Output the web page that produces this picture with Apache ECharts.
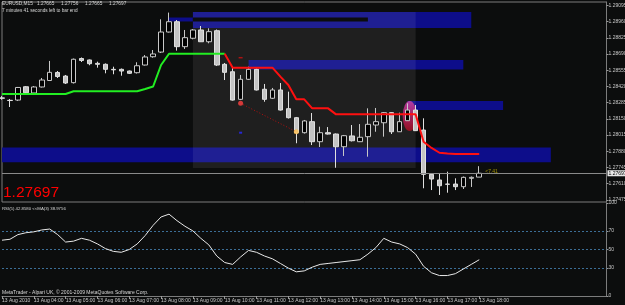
<!DOCTYPE html>
<html><head><meta charset="utf-8">
<script src="https://cdn.jsdelivr.net/npm/echarts@6/dist/echarts.min.js"></script>
<style>html,body{margin:0;padding:0;background:#0c0d0d;}#c{width:625px;height:305px;}</style>
</head><body><div id="c"></div>
<script>
// ---- data ----
const barTimes = ["03:00","03:15","03:30","03:45","04:00","04:15","04:30","04:45","05:00","05:15","05:30","05:45","06:00","06:15","06:30","06:45","07:00","07:15","07:30","07:45","08:00","08:15","08:30","08:45","09:00","09:15","09:30","09:45","10:00","10:15","10:30","10:45","11:00","11:15","11:30","11:45","12:00","12:15","12:30","12:45","13:00","13:15","13:30","13:45","14:00","14:15","14:30","14:45","15:00","15:15","15:30","15:45","16:00","16:15","16:30","16:45","17:00","17:15","17:30","17:45","18:00"];
const futureSlots = ["18:15","18:30","18:45","19:00","19:15","19:30","19:45","20:00","20:15","20:30","20:45","21:00","21:15","21:30","21:45","22:00"];
const tickLabels = ["13 Aug 2010","13 Aug 04:00","13 Aug 05:00","13 Aug 06:00","13 Aug 07:00","13 Aug 08:00","13 Aug 09:00","13 Aug 10:00","13 Aug 11:00","13 Aug 12:00","13 Aug 13:00","13 Aug 14:00","13 Aug 15:00","13 Aug 16:00","13 Aug 17:00","13 Aug 18:00"];
// [open, high, low, close]
const candles = [
[1.28325,1.28340,1.28310,1.28322],[1.28305,1.28316,1.28249,1.28303],[1.28307,1.28416,1.28299,1.28412],[1.28418,1.28424,1.28362,1.28368],
[1.28366,1.28424,1.28362,1.28416],[1.28416,1.28491,1.28412,1.28474],[1.28470,1.28633,1.28466,1.28538],[1.28537,1.28549,1.28491,1.28503],
[1.28507,1.28516,1.28441,1.28449],[1.28452,1.28653,1.28445,1.28647],[1.28653,1.28662,1.28624,1.28637],[1.28641,1.28645,1.28597,1.28610],
[1.28613,1.28627,1.28577,1.28605],[1.28605,1.28612,1.28530,1.28563],[1.28563,1.28585,1.28522,1.28559],[1.28563,1.28570,1.28510,1.28549],
[1.28549,1.28553,1.28524,1.28530],[1.28535,1.28622,1.28528,1.28593],[1.28599,1.28682,1.28595,1.28666],[1.28668,1.28724,1.28660,1.28691],
[1.28707,1.28980,1.28699,1.28874],[1.28874,1.29036,1.28870,1.28960],[1.28960,1.28974,1.28719,1.28752],[1.28752,1.28891,1.28733,1.28827],
[1.28822,1.28899,1.28813,1.28891],[1.28891,1.28924,1.28791,1.28793],[1.28793,1.28905,1.28780,1.28877],[1.28885,1.28895,1.28591,1.28599],
[1.28605,1.28616,1.28474,1.28538],[1.28543,1.28574,1.28303,1.28307],[1.28313,1.28516,1.28307,1.28480],[1.28480,1.28585,1.28474,1.28563],
[1.28563,1.28570,1.28387,1.28391],[1.28397,1.28441,1.28293,1.28313],[1.28322,1.28408,1.28316,1.28391],[1.28391,1.28449,1.28220,1.28224],
[1.28235,1.28377,1.28153,1.28160],[1.28160,1.28166,1.27947,1.28035],[1.28035,1.28141,1.28028,1.28133],[1.28127,1.28199,1.27932,1.27960],
[1.27960,1.28085,1.27916,1.28035],[1.28035,1.28082,1.28020,1.28024],[1.28024,1.28028,1.27743,1.27918],[1.27918,1.28016,1.27841,1.28010],
[1.28008,1.28099,1.27962,1.27968],[1.27960,1.28107,1.27957,1.27997],[1.28002,1.28238,1.27835,1.28105],[1.28099,1.28241,1.28043,1.28127],
[1.28118,1.28207,1.28002,1.28202],[1.28202,1.28205,1.28024,1.28043],[1.28043,1.28202,1.28041,1.28127],[1.28135,1.28280,1.28133,1.28224],
[1.28224,1.28266,1.28049,1.28052],[1.28057,1.28155,1.27572,1.27688],[1.27688,1.27691,1.27557,1.27649],[1.27641,1.27697,1.27516,1.27593],
[1.27607,1.27710,1.27535,1.27605],[1.27607,1.27655,1.27557,1.27585],[1.27585,1.27670,1.27566,1.27663],[1.27655,1.27670,1.27583,1.27663],
[1.27665,1.27756,1.27665,1.27697]];
const stopGreen = [1.28358,1.28358,1.28358,1.28358,1.28358,1.28358,1.28358,1.28358,1.28358,
1.28380,1.28380,1.28380,1.28380,1.28380,1.28380,1.28380,1.28380,1.28380,
1.28399,1.28420,1.28599,1.28693,1.28693,1.28693,1.28693,1.28693,1.28693,1.28693,1.28693,
null,null,null,null,null,null,null,null,null,null,null,null,null,null,null,null,null,null,null,null,null,null,null,null,null,null,null,null,null,null,null,null];
const stopRed = [null,null,null,null,null,null,null,null,null,null,null,null,null,null,null,null,null,null,null,null,null,null,null,null,null,null,null,null,
1.28693,1.28577,1.28577,1.28577,1.28577,1.28577,1.28577,1.28502,1.28433,1.28313,1.28313,1.28238,1.28238,1.28238,
1.28188,1.28188,1.28188,1.28188,1.28188,1.28188,1.28188,1.28188,1.28188,1.28188,1.28188,
1.27960,1.27908,1.27868,1.27862,1.27857,1.27857,1.27857,1.27857];
const rsiValues = [60,61,66,68,69,71,72,66,58,59,62,60,56,51,48,47,50,56,65,76,85,88,81,75,70,62,55,43,36,34,42,49,47,43,40,35,30,26,27,31,34,35,36,37,38,39,45,52,62,58,56,52,45,32,25,22,22,24,29,34,39];
const rsiLevels = [70,50,30];
const rsiTicks = [0,30,50,70,100];
const priceTicks = [1.29095,1.28960,1.28825,1.28690,1.28555,1.28420,1.28285,1.28150,1.28015,1.27880,1.27745,1.27610,1.27475];
const priceMin = 1.274575, priceMax = 1.291242;
const lastPrice = 1.27697;
const headerQuote = ["1.27665","1.27756","1.27665","1.27697"];
// zones: [fromBar, toBar, priceTop, priceBottom]
const blueZones = [[24,59,1.29041,1.28908],[21,24,1.28995,1.28962],[31,58,1.28641,1.28562],[51,63,1.28299,1.28224],[0,69,1.27912,1.27789]];
const grayZone = [[24,52,1.29041,1.27741]];
const blackStripe = [[24,46,1.28995,1.28962]];
const trendLine = [[30,1.28280],[37,1.28043]];
const startMark = [[30,1.28280]];
const endMark = [[37,1.28043]];
const blueDot = [[30,1.28035]];
const redDash = [[30,1.28660]];
const ellipseMark = [[51,1.28174]];
const pipLabel = [[60,1.27713]];

const categories = barTimes.concat(futureSlots);
const FONT = 'Liberation Sans';
const hourly = (i) => i % 4 === 0 && i <= 60;

function zoneSeries(data, fill, z) {
  return {
    type: 'custom', xAxisIndex: 0, yAxisIndex: 0, z: z, silent: true, data: data,
    encode: {x: [0, 1], y: [2, 3]},
    renderItem: function (params, api) {
      const a = api.coord([api.value(0), api.value(2)]);
      const b = api.coord([api.value(1), api.value(3)]);
      return {type: 'rect', shape: {x: a[0], y: a[1], width: b[0] - a[0], height: b[1] - a[1]}, style: {fill: fill}};
    }
  };
}

const headerTexts = [{type: 'text', left: 2, top: 1.5, z: 10, style: {text: 'EURUSD,M15', fill: '#d8d8d8', fontSize: 4.8, fontFamily: FONT}}]
  .concat(headerQuote.map((q, i) => ({type: 'text', left: 37 + i * 24, top: 1.5, z: 10, style: {text: q, fill: '#d8d8d8', fontSize: 4.8, fontFamily: FONT}})));

const chart = echarts.init(document.getElementById('c'), null, {renderer: 'canvas'});
chart.setOption({
  backgroundColor: '#0c0d0d',
  animation: false,
  grid: [
    {left: 2, right: 18.5, top: 2, height: 200, show: true, borderColor: '#7c7c7c', borderWidth: 1, backgroundColor: 'transparent', outerBoundsMode: 'none', containLabel: false},
    {left: 2, right: 18.5, top: 203, height: 93, show: false, outerBoundsMode: 'none', containLabel: false}
  ],
  xAxis: [
    {type: 'category', gridIndex: 0, data: categories, boundaryGap: false, show: false},
    {type: 'category', gridIndex: 1, data: categories, boundaryGap: false,
      axisLine: {show: true, lineStyle: {color: '#7c7c7c'}},
      axisTick: {show: true, length: 3, interval: hourly, lineStyle: {color: '#9a9a9a'}},
      axisLabel: {interval: hourly, formatter: (v, i) => tickLabels[i / 4], align: 'left', fontSize: 5, color: '#c8c8c8', margin: 2, fontFamily: FONT},
      splitLine: {show: false}}
  ],
  yAxis: [
    {type: 'value', gridIndex: 0, position: 'right', min: priceMin, max: priceMax, scale: true,
      splitLine: {show: false},
      axisLine: {show: true, lineStyle: {color: '#7c7c7c'}},
      axisTick: {show: true, length: 2, customValues: priceTicks, lineStyle: {color: '#9a9a9a'}},
      axisLabel: {customValues: priceTicks, formatter: v => v.toFixed(5), fontSize: 5, color: '#c8c8c8', margin: 2, fontFamily: FONT}},
    {type: 'value', gridIndex: 1, position: 'right', min: 0, max: 100,
      splitLine: {show: false},
      axisLine: {show: true, lineStyle: {color: '#7c7c7c'}},
      axisTick: {show: true, length: 2, customValues: rsiTicks, lineStyle: {color: '#9a9a9a'}},
      axisLabel: {customValues: rsiTicks, fontSize: 5, color: '#c8c8c8', margin: 2, fontFamily: FONT}}
  ],
  series: [
    zoneSeries(blueZones, 'rgb(13,13,138)', 1),
    zoneSeries(grayZone, 'rgba(255,255,255,0.08)', 2),
    zoneSeries(blackStripe, '#0c0d0d', 3),
    {type: 'scatter', xAxisIndex: 0, yAxisIndex: 0, z: 3, silent: true, data: ellipseMark,
      symbol: 'circle', symbolSize: [14, 30], symbolOffset: [2, 0],
      itemStyle: {opacity: 0.9, color: new echarts.graphic.LinearGradient(0, 0, 0, 1, [{offset: 0, color: '#c040a8'}, {offset: 0.55, color: '#b02060'}, {offset: 1, color: '#a01020'}])}},
    {type: 'candlestick', xAxisIndex: 0, yAxisIndex: 0, z: 4, clip: false, barWidth: 5,
      data: candles.map(c => [c[0], c[3], c[2], c[1]]),
      itemStyle: {color: '#000000', color0: '#c4c4c4', borderColor: '#c8c8c8', borderColor0: '#e0e0e0', borderWidth: 1}},
    {type: 'line', xAxisIndex: 0, yAxisIndex: 0, z: 5, data: stopGreen, symbol: 'none', connectNulls: false,
      lineStyle: {color: '#22ee22', width: 2}},
    {type: 'line', xAxisIndex: 0, yAxisIndex: 0, z: 5, data: stopRed, symbol: 'none', connectNulls: false,
      lineStyle: {color: '#ff1010', width: 2},
      markLine: {silent: true, symbol: 'none', precision: 5, data: [{yAxis: lastPrice}],
        lineStyle: {color: '#8a8a8a', type: 'solid', width: 1},
        label: {show: true, position: 'end', formatter: () => lastPrice.toFixed(5), backgroundColor: '#e8e8e8', color: '#000', fontSize: 5, padding: [1, 1, 0, 1], distance: 1, fontFamily: FONT}}},
    {type: 'line', xAxisIndex: 0, yAxisIndex: 0, z: 5, data: trendLine, symbol: 'none',
      lineStyle: {color: '#b01010', width: 1, type: [1, 2]}},
    {type: 'scatter', xAxisIndex: 0, yAxisIndex: 0, z: 6, data: startMark, symbol: 'circle', symbolSize: 5, itemStyle: {color: '#ff4040'}},
    {type: 'scatter', xAxisIndex: 0, yAxisIndex: 0, z: 6, data: endMark, symbol: 'circle', symbolSize: 5, itemStyle: {color: '#ffc050'}},
    {type: 'scatter', xAxisIndex: 0, yAxisIndex: 0, z: 6, data: blueDot, symbol: 'rect', symbolSize: [3, 2], itemStyle: {color: '#2a2aff'}},
    {type: 'scatter', xAxisIndex: 0, yAxisIndex: 0, z: 6, data: redDash, symbol: 'rect', symbolSize: [4, 1.5], itemStyle: {color: '#d01010'}},
    {type: 'scatter', xAxisIndex: 0, yAxisIndex: 0, z: 6, data: pipLabel, symbolSize: 0,
      label: {show: true, position: 'right', distance: 6, formatter: '<7.41', color: '#c8b400', fontSize: 5, fontFamily: FONT}},
    {type: 'line', xAxisIndex: 1, yAxisIndex: 1, z: 5, data: rsiValues, symbol: 'none',
      lineStyle: {color: '#e8e8e8', width: 1},
      markLine: {silent: true, symbol: 'none', label: {show: false},
        lineStyle: {color: '#3c6e96', type: [2, 2], width: 1},
        data: rsiLevels.map(v => ({yAxis: v}))}}
  ],
  graphic: headerTexts.concat([
    {type: 'text', left: 2, top: 8, z: 10, style: {text: '7 minutes 41 seconds left to bar end', fill: '#d8d8d8', fontSize: 4.7, fontFamily: FONT}},
    {type: 'text', left: 3, top: 184.5, z: 10, style: {text: '1.27697', fill: '#ff0000', fontSize: 15.5, fontFamily: FONT}},
    {type: 'text', left: 2, top: 206.5, z: 10, style: {text: 'RSI(5) 42.8580 <<MA(3) 38.9756', fill: '#d8d8d8', fontSize: 4.3, fontFamily: FONT}},
    {type: 'text', left: 2, top: 290.5, z: 10, style: {text: 'MetaTrader - Alpari UK, \u00a9 2001-2009 MetaQuotes Software Corp.', fill: '#d8d8d8', fontSize: 5, fontFamily: FONT}}
  ])
});
</script>
</body></html>
